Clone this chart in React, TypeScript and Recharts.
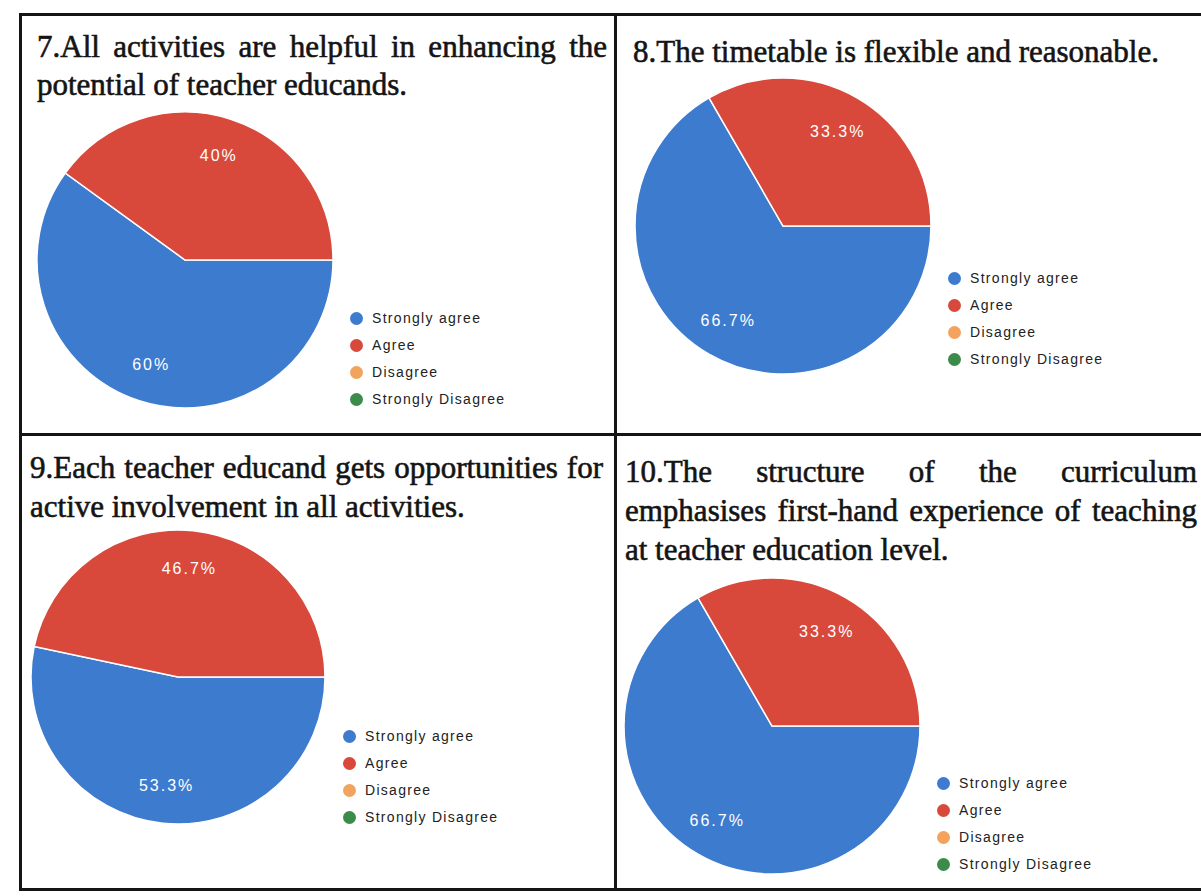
import { PieChart, Pie, Legend } from "recharts";

const SERIF = "'Liberation Serif', 'Times New Roman', serif";
const SANS = "'Liberation Sans', Arial, sans-serif";

// response categories, in legend order
const CATEGORIES = ["Strongly agree", "Agree", "Disagree", "Strongly Disagree"];
const COLORS = ["#3d7bcf", "#d8493c", "#f2a35e", "#3b8c4b"];

// respondents per category for each statement
const Q7_VALUES = [9, 6, 0, 0];
const Q8_VALUES = [10, 5, 0, 0];
const Q9_VALUES = [8, 7, 0, 0];
const Q10_VALUES = [10, 5, 0, 0];

const Q7_TITLE = ["7.All activities are helpful in enhancing the", "potential of teacher educands."];
const Q8_TITLE = ["8.The timetable is flexible and reasonable."];
const Q9_TITLE = ["9.Each teacher educand gets opportunities for", "active involvement in all activities."];
const Q10_TITLE = [
  "10.The structure of the curriculum",
  "emphasises first-hand experience of teaching",
  "at teacher education level.",
];

const CHARTS = [
  { title: Q7_TITLE, values: Q7_VALUES },
  { title: Q8_TITLE, values: Q8_VALUES },
  { title: Q9_TITLE, values: Q9_VALUES },
  { title: Q10_TITLE, values: Q10_VALUES },
];

// page layout (pixels)
const LAYOUT = [
  { cx: 185, cy: 260, r: 148, legendDy: 58, titleX: 37, titleW: 570, baselines: [57, 95] },
  { cx: 783, cy: 226, r: 148, legendDy: 52, titleX: 633, titleW: 560, baselines: [62] },
  { cx: 178, cy: 677, r: 147, legendDy: 59, titleX: 30, titleW: 573, baselines: [478, 517] },
  { cx: 772, cy: 726, r: 148, legendDy: 57, titleX: 625, titleW: 572, baselines: [482, 521, 560] },
];

const BOX = 160; // pie centre inside each chart svg
const TITLE_SIZE = 31;
const TITLE_LH = 38;

const RADIAN = Math.PI / 180;

function fmtPct(p: number) {
  const s = (p * 100).toFixed(1);
  return (s.endsWith(".0") ? s.slice(0, -2) : s) + "%";
}

function renderLabel(props: any) {
  const { cx, cy, midAngle, outerRadius, percent } = props;
  if (!percent) return null;
  const r = outerRadius * 0.74;
  const x = cx + r * Math.cos(-midAngle * RADIAN);
  const y = cy + r * Math.sin(-midAngle * RADIAN);
  return (
    <text
      x={x}
      y={y}
      fill="#ffffff"
      textAnchor="middle"
      dominantBaseline="central"
      style={{ fontFamily: SANS, fontSize: 16, letterSpacing: 2 }}
    >
      {fmtPct(percent)}
    </text>
  );
}

function LegendList({ payload }: { payload?: any[] }) {
  if (!payload) return null;
  return (
    <div style={{ fontFamily: SANS, fontSize: 14, letterSpacing: 1.3, color: "#222" }}>
      {payload.map((p: any) => (
        <div key={p.value} style={{ display: "flex", alignItems: "center", height: 27 }}>
          <span
            style={{
              display: "inline-block",
              width: 13,
              height: 13,
              borderRadius: "50%",
              background: p.payload?.fill ?? p.color,
              marginRight: 9,
            }}
          />
          {p.value}
        </div>
      ))}
    </div>
  );
}

function Line({ x, y, w, h }: { x: number; y: number; w: number; h: number }) {
  return <div style={{ position: "absolute", left: x, top: y, width: w, height: h, background: "#151515" }} />;
}

export default function App() {
  return (
    <div
      style={{
        position: "absolute",
        left: 0,
        top: 0,
        width: 1201,
        height: 896,
        background: "#ffffff",
        overflow: "hidden",
      }}
    >
      {/* table borders */}
      <Line x={20} y={13} w={1181} h={3} />
      <Line x={19} y={13} w={3} h={878} />
      <Line x={614} y={13} w={3} h={878} />
      <Line x={19} y={433} w={1182} h={3} />
      <Line x={19} y={888} w={1182} h={3} />

      {CHARTS.map((c, i) => {
        const L = LAYOUT[i];
        const data = CATEGORIES.map((name, k) => ({ name, value: c.values[k], fill: COLORS[k] }));
        return (
          <div key={i}>
            {c.title.map((line, j) => {
              const last = j === c.title.length - 1;
              return (
                <div
                  key={j}
                  style={{
                    position: "absolute",
                    left: L.titleX,
                    top: L.baselines[j] - 29.5,
                    width: L.titleW,
                    fontFamily: SERIF,
                    fontSize: TITLE_SIZE,
                    lineHeight: `${TITLE_LH}px`,
                    color: "#141414",
                    WebkitTextStroke: "0.6px #141414",
                    textAlign: last ? "left" : "justify",
                    textAlignLast: last ? "left" : "justify",
                  }}
                >
                  {line}
                </div>
              );
            })}
            <div style={{ position: "absolute", left: L.cx - BOX, top: L.cy - BOX }}>
              <PieChart width={440} height={330} margin={{ top: 0, right: 0, bottom: 0, left: 0 }}>
                <Pie
                  data={data}
                  dataKey="value"
                  nameKey="name"
                  cx={BOX}
                  cy={BOX}
                  outerRadius={L.r}
                  startAngle={0}
                  endAngle={-360}
                  stroke="#ffffff"
                  strokeWidth={1.5}
                  label={renderLabel}
                  labelLine={false}
                  isAnimationActive={false}
                />
                <Legend
                  layout="vertical"
                  content={<LegendList />}
                  itemSorter={(item: any) => CATEGORIES.indexOf(item.value)}
                  wrapperStyle={{ left: BOX + 171 - 6, top: BOX + L.legendDy - 13.5, width: 200, bottom: "auto" }}
                />
              </PieChart>
            </div>
          </div>
        );
      })}
    </div>
  );
}
